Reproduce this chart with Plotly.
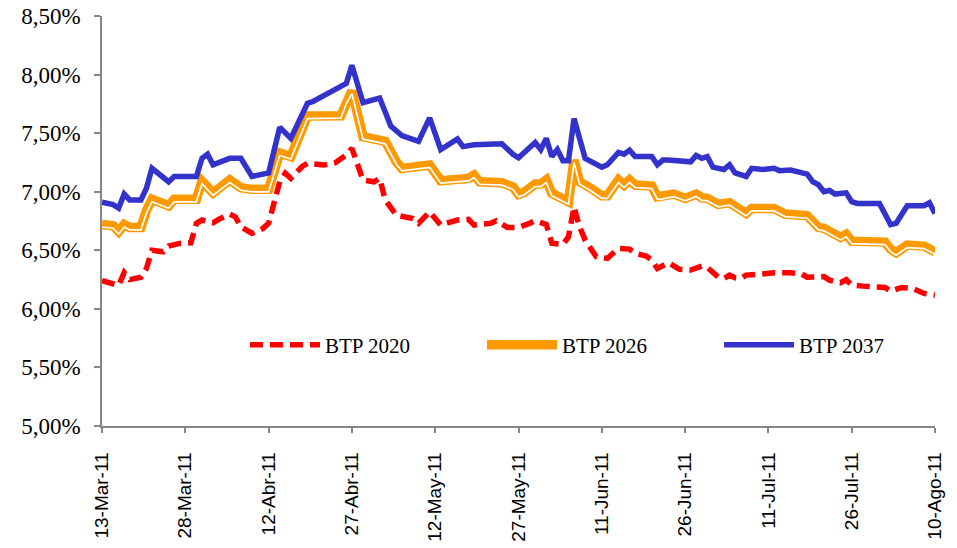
import plotly.graph_objects as go

# BTP 2020 (rendimenti %)
dates_2020 = ['2011-03-13', '2011-03-16', '2011-03-17', '2011-03-18', '2011-03-20', '2011-03-21',
              '2011-03-22', '2011-03-24', '2011-03-25', '2011-03-27', '2011-03-29', '2011-03-30',
              '2011-03-31', '2011-04-02', '2011-04-03', '2011-04-05', '2011-04-06', '2011-04-07',
              '2011-04-09', '2011-04-11', '2011-04-12', '2011-04-13', '2011-04-14', '2011-04-15',
              '2011-04-16', '2011-04-18', '2011-04-19', '2011-04-22', '2011-04-24', '2011-04-26',
              '2011-04-27', '2011-04-29', '2011-05-01', '2011-05-02', '2011-05-03', '2011-05-05',
              '2011-05-08', '2011-05-09', '2011-05-11', '2011-05-13', '2011-05-16', '2011-05-18',
              '2011-05-19', '2011-05-22', '2011-05-23', '2011-05-25', '2011-05-27', '2011-05-29',
              '2011-05-30', '2011-06-01', '2011-06-02', '2011-06-04', '2011-06-05', '2011-06-06',
              '2011-06-07', '2011-06-08', '2011-06-09', '2011-06-10', '2011-06-12', '2011-06-13',
              '2011-06-14', '2011-06-16', '2011-06-17', '2011-06-19', '2011-06-20', '2011-06-21',
              '2011-06-23', '2011-06-25', '2011-06-27', '2011-06-29', '2011-06-30', '2011-07-02',
              '2011-07-03', '2011-07-04', '2011-07-05', '2011-07-06', '2011-07-07', '2011-07-09',
              '2011-07-12', '2011-07-15', '2011-07-17', '2011-07-18', '2011-07-21', '2011-07-22',
              '2011-07-24', '2011-07-25', '2011-07-26', '2011-07-28', '2011-07-30', '2011-08-01',
              '2011-08-02', '2011-08-04', '2011-08-06', '2011-08-08', '2011-08-10']
btp_2020 = [6.24, 6.20, 6.31, 6.25, 6.27, 6.345,
            6.50, 6.487, 6.536, 6.559, 6.564, 6.73,
            6.758, 6.735, 6.764, 6.809, 6.786, 6.70,
            6.644, 6.687, 6.73, 6.90, 7.085, 7.157,
            7.114, 7.213, 7.242, 7.228, 7.247, 7.313,
            7.37, 7.10, 7.085, 7.114, 6.93, 6.80,
            6.77, 6.73, 6.829, 6.715, 6.758, 6.764,
            6.715, 6.73, 6.752, 6.695, 6.695, 6.73,
            6.752, 6.72, 6.56, 6.55, 6.615, 6.87,
            6.70, 6.587, 6.516, 6.445, 6.431, 6.474,
            6.516, 6.51, 6.474, 6.45, 6.416, 6.345,
            6.393, 6.337, 6.331, 6.365, 6.354, 6.27,
            6.26, 6.288, 6.265, 6.26, 6.288, 6.294,
            6.308, 6.308, 6.297, 6.27, 6.275, 6.245,
            6.223, 6.25, 6.203, 6.194, 6.194, 6.183,
            6.15, 6.183, 6.175, 6.132, 6.117]

# BTP 2026
dates_2026 = ['2011-03-13', '2011-03-15', '2011-03-16', '2011-03-17', '2011-03-18', '2011-03-20',
              '2011-03-21', '2011-03-22', '2011-03-25', '2011-03-26', '2011-03-30', '2011-03-31',
              '2011-04-02', '2011-04-05', '2011-04-07', '2011-04-09', '2011-04-12', '2011-04-14',
              '2011-04-16', '2011-04-19', '2011-04-25', '2011-04-26', '2011-04-27', '2011-04-29',
              '2011-05-02', '2011-05-03', '2011-05-05', '2011-05-06', '2011-05-11', '2011-05-13',
              '2011-05-18', '2011-05-19', '2011-05-20', '2011-05-24', '2011-05-26', '2011-05-27',
              '2011-05-28', '2011-05-30', '2011-05-31', '2011-06-01', '2011-06-02', '2011-06-04',
              '2011-06-05', '2011-06-06', '2011-06-07', '2011-06-09', '2011-06-11', '2011-06-12',
              '2011-06-14', '2011-06-15', '2011-06-16', '2011-06-17', '2011-06-20', '2011-06-21',
              '2011-06-22', '2011-06-24', '2011-06-26', '2011-06-28', '2011-06-29', '2011-06-30',
              '2011-07-02', '2011-07-04', '2011-07-07', '2011-07-08', '2011-07-12', '2011-07-14',
              '2011-07-17', '2011-07-18', '2011-07-20', '2011-07-21', '2011-07-24', '2011-07-25',
              '2011-07-26', '2011-08-01', '2011-08-02', '2011-08-03', '2011-08-05', '2011-08-08',
              '2011-08-10']
btp_2026 = [6.72, 6.71, 6.66, 6.72, 6.695, 6.695,
            6.84, 6.935, 6.88, 6.935, 6.935, 7.09,
            6.99, 7.10, 7.034, 7.02, 7.02, 7.33,
            7.30, 7.646, 7.649, 7.774, 7.86, 7.47,
            7.441, 7.43, 7.256, 7.199, 7.228, 7.094,
            7.114, 7.142, 7.085, 7.077, 7.04, 6.977,
            6.994, 7.065, 7.065, 7.10, 6.986, 6.935,
            6.914, 7.27, 7.085, 7.03, 6.965, 6.965,
            7.10, 7.057, 7.10, 7.057, 7.048, 6.957,
            6.96, 6.98, 6.943, 6.98, 6.948, 6.943,
            6.892, 6.906, 6.815, 6.857, 6.857, 6.809,
            6.80, 6.795, 6.695, 6.687, 6.61, 6.636,
            6.578, 6.57, 6.51, 6.479, 6.544, 6.536,
            6.487]

# BTP 2037
dates_2037 = ['2011-03-13', '2011-03-15', '2011-03-16', '2011-03-17', '2011-03-18', '2011-03-20',
              '2011-03-21', '2011-03-22', '2011-03-25', '2011-03-26', '2011-03-30', '2011-03-31',
              '2011-04-01', '2011-04-02', '2011-04-05', '2011-04-07', '2011-04-09', '2011-04-12',
              '2011-04-14', '2011-04-16', '2011-04-19', '2011-04-20', '2011-04-26', '2011-04-27',
              '2011-04-29', '2011-05-02', '2011-05-03', '2011-05-04', '2011-05-06', '2011-05-09',
              '2011-05-11', '2011-05-13', '2011-05-16', '2011-05-17', '2011-05-19', '2011-05-24',
              '2011-05-26', '2011-05-27', '2011-05-30', '2011-05-31', '2011-06-01', '2011-06-02',
              '2011-06-03', '2011-06-04', '2011-06-05', '2011-06-06', '2011-06-08', '2011-06-09',
              '2011-06-11', '2011-06-12', '2011-06-14', '2011-06-15', '2011-06-16', '2011-06-17',
              '2011-06-20', '2011-06-21', '2011-06-22', '2011-06-23', '2011-06-26', '2011-06-27',
              '2011-06-28', '2011-06-29', '2011-06-30', '2011-07-01', '2011-07-03', '2011-07-04',
              '2011-07-05', '2011-07-07', '2011-07-08', '2011-07-10', '2011-07-12', '2011-07-13',
              '2011-07-15', '2011-07-17', '2011-07-18', '2011-07-19', '2011-07-20', '2011-07-21',
              '2011-07-22', '2011-07-23', '2011-07-25', '2011-07-26', '2011-07-27', '2011-07-31',
              '2011-08-02', '2011-08-03', '2011-08-05', '2011-08-08', '2011-08-09', '2011-08-10']
btp_2037 = [6.91, 6.89, 6.86, 6.98, 6.93, 6.93,
            7.03, 7.20, 7.085, 7.13, 7.13, 7.285,
            7.32, 7.23, 7.285, 7.285, 7.13, 7.16,
            7.55, 7.455, 7.755, 7.77, 7.925, 8.08,
            7.76, 7.80, 7.68, 7.56, 7.48, 7.43,
            7.63, 7.36, 7.45, 7.385, 7.40, 7.41,
            7.32, 7.29, 7.42, 7.36, 7.455, 7.30,
            7.36, 7.265, 7.265, 7.625, 7.285, 7.26,
            7.21, 7.23, 7.335, 7.32, 7.355, 7.30,
            7.30, 7.23, 7.27, 7.27, 7.25, 7.255,
            7.31, 7.285, 7.30, 7.21, 7.19, 7.23,
            7.16, 7.13, 7.20, 7.19, 7.20, 7.18,
            7.185, 7.16, 7.15, 7.085, 7.06, 7.00,
            7.01, 6.98, 6.99, 6.915, 6.90, 6.90,
            6.72, 6.73, 6.88, 6.88, 6.905, 6.815]

x_tickvals = ['2011-03-13', '2011-03-28', '2011-04-12', '2011-04-27', '2011-05-12', '2011-05-27',
              '2011-06-11', '2011-06-26', '2011-07-11', '2011-07-26', '2011-08-10']
x_ticktext = ['13-Mar-11', '28-Mar-11', '12-Abr-11', '27-Abr-11', '12-May-11', '27-May-11',
              '11-Jun-11', '26-Jun-11', '11-Jul-11', '26-Jul-11', '10-Ago-11']
y_tickvals = [5.0, 5.5, 6.0, 6.5, 7.0, 7.5, 8.0, 8.5]
y_ticktext = ['5,00%', '5,50%', '6,00%', '6,50%', '7,00%', '7,50%', '8,00%', '8,50%']

fig = go.Figure()

fig.add_trace(go.Scatter(
    x=dates_2020, y=btp_2020, mode='lines', name='BTP 2020',
    line=dict(color='#FF0000', width=5.5, dash='13px,7px')
))
fig.add_trace(go.Scatter(
    x=dates_2026, y=btp_2026, mode='lines', name='BTP 2026',
    line=dict(color='#FF9900', width=9.5)
))
# linea bianca interna (effetto doppia linea), asse y2 leggermente spostato
fig.add_trace(go.Scatter(
    x=dates_2026, y=btp_2026, mode='lines', showlegend=False, hoverinfo='skip',
    line=dict(color='white', width=1.7), yaxis='y2'
))
fig.add_trace(go.Scatter(
    x=dates_2037, y=btp_2037, mode='lines', name='BTP 2037',
    line=dict(color='#3333CC', width=5.5)
))

shift = 2.5 * 3.5 / 410

fig.update_layout(
    width=957, height=548,
    margin=dict(l=102, r=22, t=16, b=122, autoexpand=False),
    plot_bgcolor='white', paper_bgcolor='white',
    showlegend=True,
    legend=dict(
        orientation='h', x=0.1717, y=0.1976, xanchor='left', yanchor='middle',
        font=dict(family='Liberation Serif', size=21, color='black'),
        bgcolor='rgba(0,0,0,0)', itemwidth=70, entrywidth=152
    ),
    xaxis=dict(
        type='date', range=['2011-03-13', '2011-08-10'], automargin=False,
        tickvals=x_tickvals, ticktext=x_ticktext, tickangle=-90,
        showgrid=False, zeroline=False,
        showline=True, linecolor='#868686', linewidth=1.5,
        ticks='outside', ticklen=5, tickcolor='#868686', tickwidth=1.5,
        ticklabelstandoff=12,
        tickfont=dict(family='Liberation Sans', size=19, color='black')
    ),
    yaxis=dict(
        range=[5.0, 8.5], tickvals=y_tickvals, ticktext=y_ticktext, automargin=False,
        showgrid=False, zeroline=False,
        showline=True, linecolor='#868686', linewidth=1.5,
        ticks='outside', ticklen=6, tickcolor='#868686', tickwidth=1.5,
        ticklabelstandoff=9,
        tickfont=dict(family='Liberation Serif', size=23, color='black')
    ),
    yaxis2=dict(
        overlaying='y', range=[5.0 + shift, 8.5 + shift], visible=False
    )
)

fig.write_html("out.html", config={'displayModeBar': False},
               post_script="document.body.style.margin = '0px';")
